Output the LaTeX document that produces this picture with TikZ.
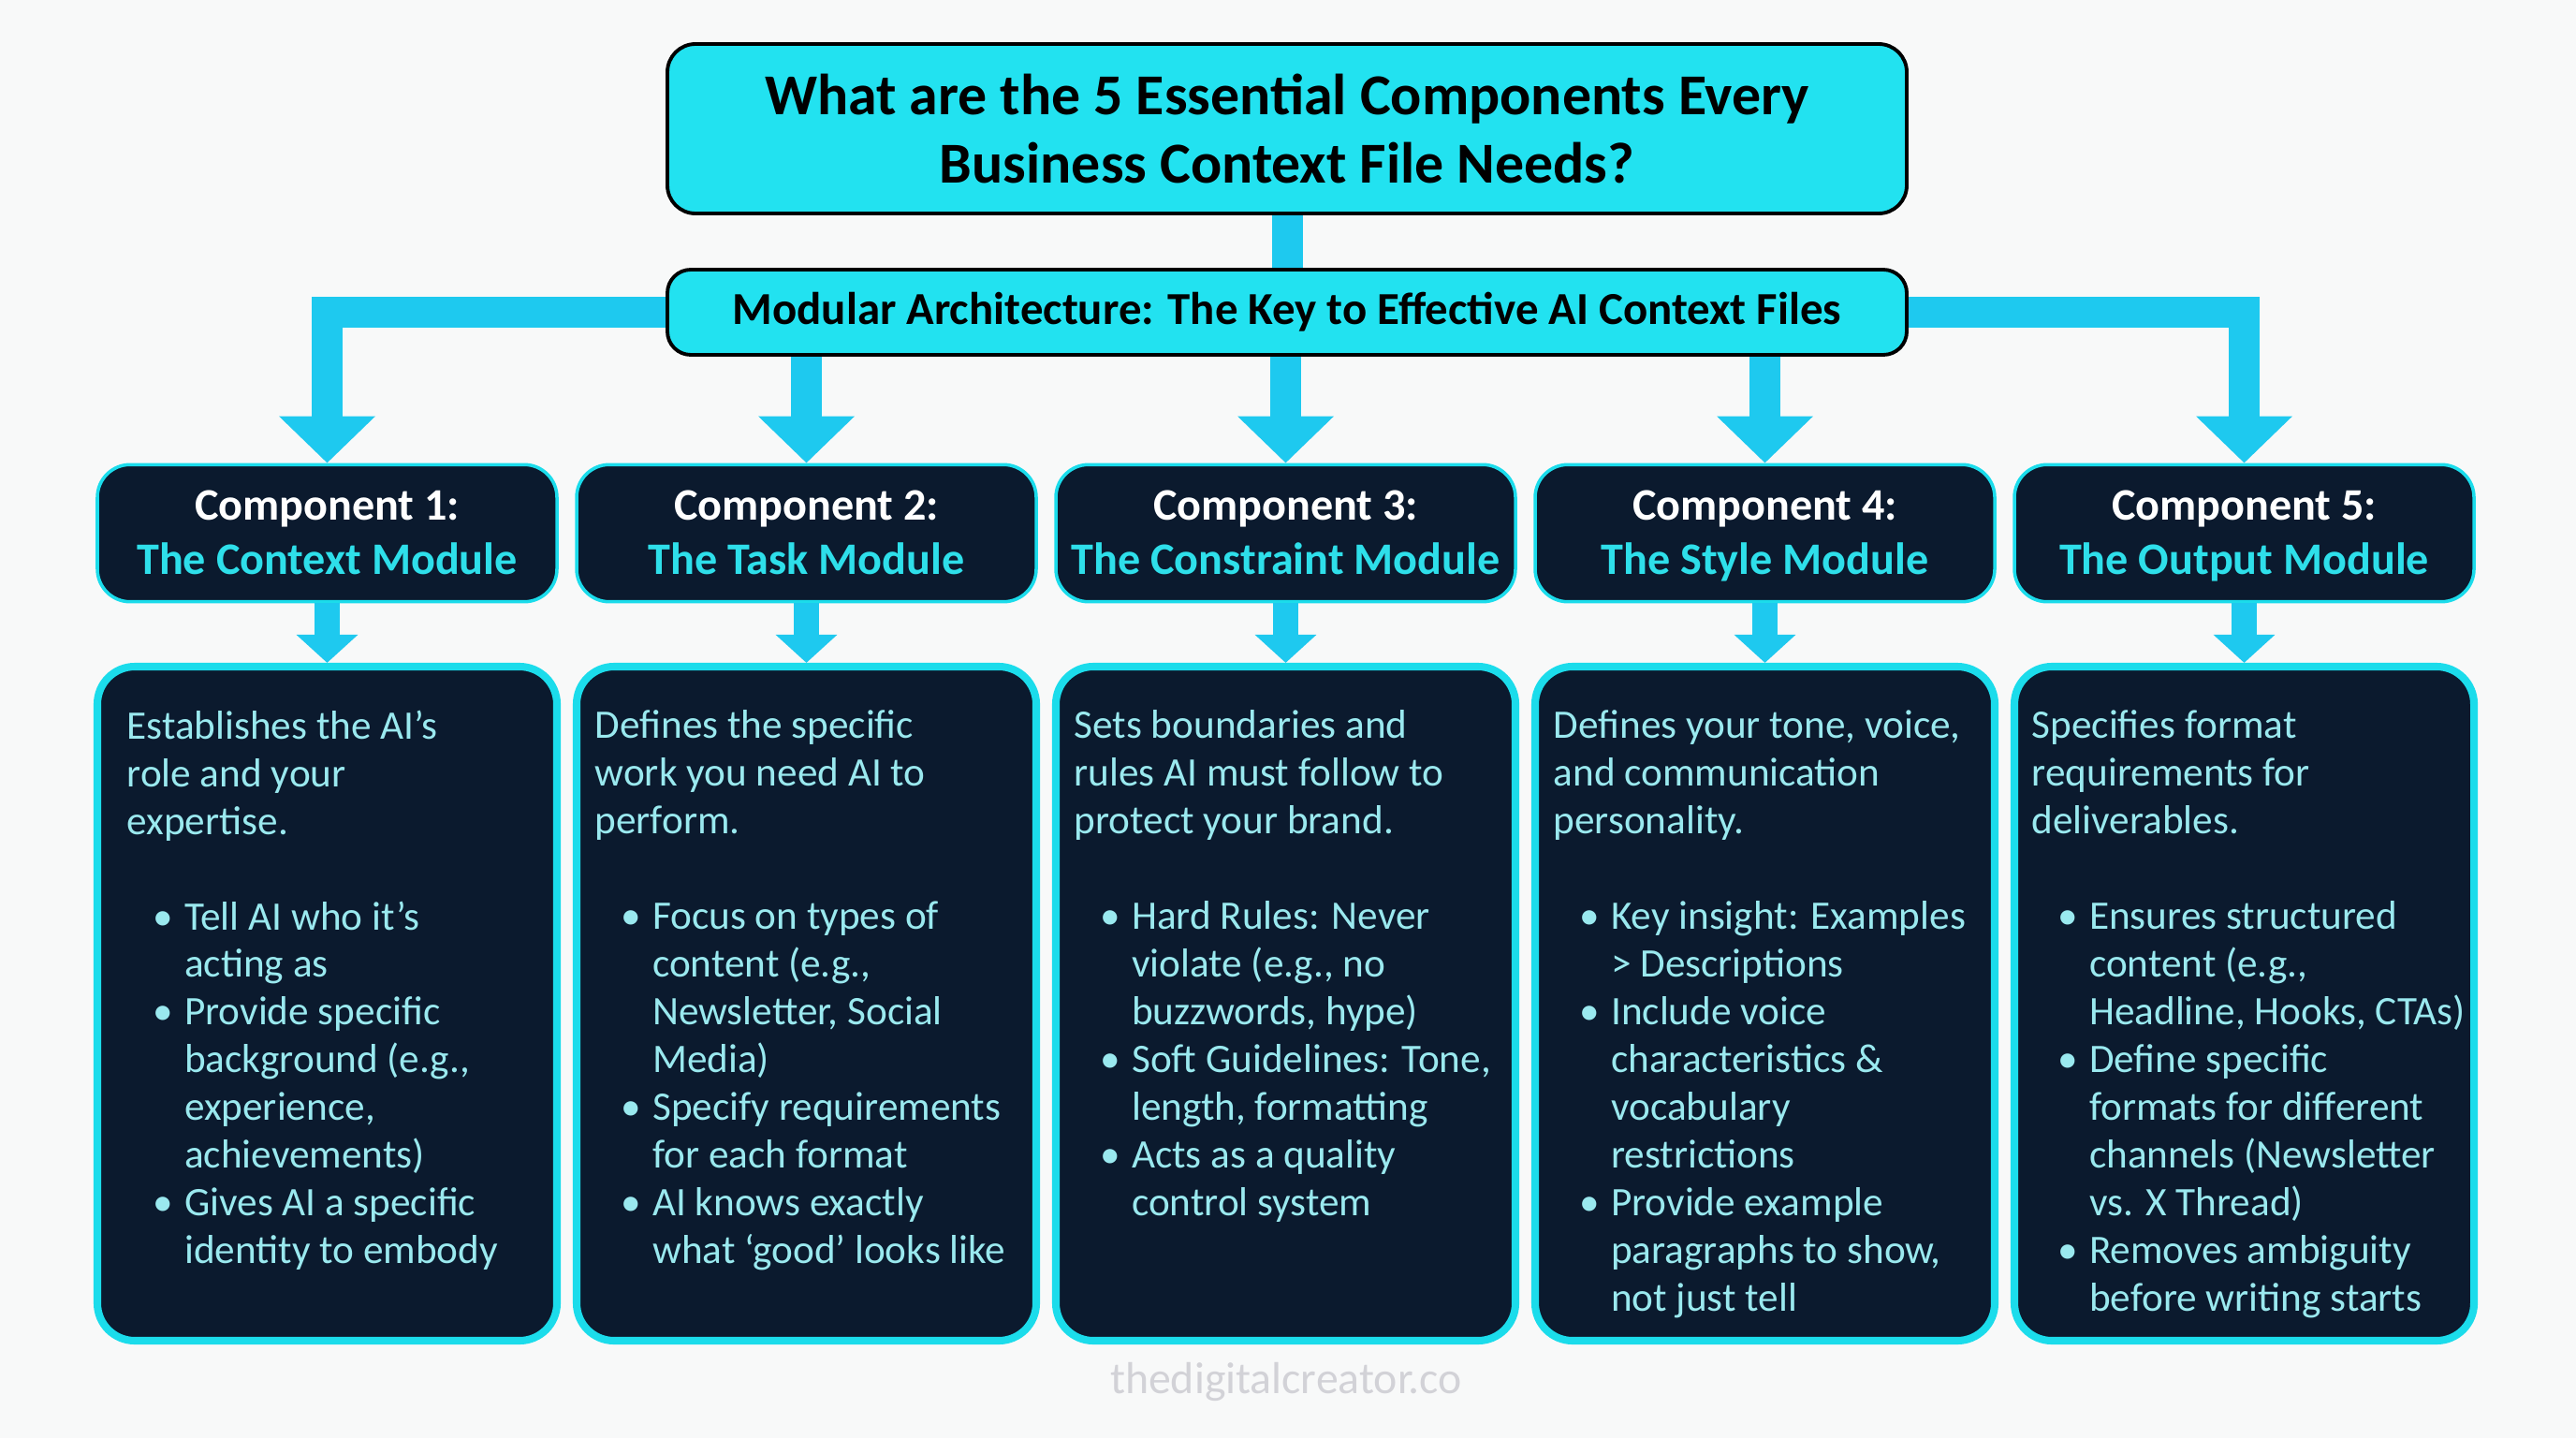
\documentclass[tikz,border=0pt]{standalone}
\usepackage{fontspec}
\setmainfont{Carlito}
\usetikzlibrary{arrows.meta, positioning}
\definecolor{ciano}{HTML}{22E2F0}
\definecolor{freccia}{HTML}{1EC9EF}
\definecolor{notte}{HTML}{0B1A2E}
\definecolor{bordo}{HTML}{1BDCEB}
\definecolor{testociano}{HTML}{9AE9EF}
\definecolor{modulo}{HTML}{2EDFEA}
\definecolor{sfondo}{HTML}{F8F9F9}
\definecolor{firma}{HTML}{D2D2D7}

\newcommand{\punto}[1]{\hspace*{8pt}\makebox[9.5pt][l]{\textbullet}#1}
\newcommand{\segue}[1]{\hspace*{17.5pt}#1}
\newcommand{\testa}[2]{\rule{0pt}{\dimexpr\ht\strutbox+2pt}Component #1:\\ \color{modulo}#2\strut}

\begin{document}
\begin{tikzpicture}[
  titolo/.style={draw=black, fill=ciano, line width=1.1pt, rounded corners=0.3cm, align=center,
                 minimum width=13.24cm, minimum height=1.81cm, font=\fontsize{17.6}{21}\selectfont\bfseries},
  barra/.style={draw=black, fill=ciano, line width=1.1pt, rounded corners=0.25cm, align=center,
                minimum width=13.24cm, minimum height=0.91cm, font=\fontsize{13.9}{15}\selectfont\bfseries},
  testata/.style={draw=bordo, fill=notte, line width=1pt, rounded corners=0.35cm, align=center, text=white,
                  minimum width=4.91cm, minimum height=1.45cm, font=\fontsize{13.7}{16.5}\selectfont\bfseries},
  corpo/.style={draw=bordo, fill=notte, line width=2.3pt, rounded corners=0.4cm,
                minimum width=4.91cm, minimum height=7.2cm},
  testo/.style={anchor=north west, align=left, inner sep=0pt, text=testociano,
                font=\fontsize{12.3}{14.5}\selectfont},
  collegamento/.style={draw=freccia, line width=0.33cm},
  rametto/.style={draw=freccia, line width=0.27cm},
  punta/.style={-{Triangle[length=0.5cm,width=1cm]}},
  puntina/.style={-{Triangle[length=0.3cm,width=0.64cm]}}
]

% sfondo
\fill[sfondo] (0,0) rectangle (27.52,-15.36);
\useasboundingbox (0,0) rectangle (27.52,-15.36);

\node[titolo] (T) at (13.75,-1.375) {What are the 5 Essential Components Every\\ Business Context File Needs?};
\node[barra] (M) at (13.75,-3.335) {Modular Architecture: The Key to Effective AI Context Files};

\node[testata] (H1) at (3.495,-5.695)  {\testa{1}{The Context Module}};
\node[testata] (H2) at (8.615,-5.695)  {\testa{2}{The Task Module}};
\node[testata] (H3) at (13.735,-5.695) {\testa{3}{The Constraint Module}};
\node[testata] (H4) at (18.855,-5.695) {\testa{4}{The Style Module}};
\node[testata] (H5) at (23.975,-5.695) {\testa{5}{The Output Module}};

\node[corpo] (B1) at (3.495,-10.72)  {};
\node[corpo] (B2) at (8.615,-10.72)  {};
\node[corpo] (B3) at (13.735,-10.72) {};
\node[corpo] (B4) at (18.855,-10.72) {};
\node[corpo] (B5) at (23.975,-10.72) {};

% collegamenti
\draw[collegamento] (T.south) -- (M.north);
\draw[collegamento, punta] (M.west) -| (H1.north);
\draw[collegamento, punta] (M.east) -| (H5.north);
\draw[collegamento, punta] (M.south -| H2.north) -- (H2.north);
\draw[collegamento, punta] (M.south -| H3.north) -- (H3.north);
\draw[collegamento, punta] (M.south -| H4.north) -- (H4.north);

\draw[rametto, puntina] (H1.south) -- (B1.north);
\draw[rametto, puntina] (H2.south) -- (B2.north);
\draw[rametto, puntina] (H3.south) -- (B3.north);
\draw[rametto, puntina] (H4.south) -- (B4.north);
\draw[rametto, puntina] (H5.south) -- (B5.north);

% testi dei moduli
\node[testo] (t1) at ([shift={(0.35,-0.5)}]B1.north west) {Establishes the AI’s\\ role and your\\ expertise.\\[14.5pt]
  \punto{Tell AI who it’s}\\ \segue{acting as}\\
  \punto{Provide specific}\\ \segue{background (e.g.,}\\ \segue{experience,}\\ \segue{achievements)}\\
  \punto{Gives AI a specific}\\ \segue{identity to embody}};
\node[testo] (t2) at ([shift={(0.23,-0.5)}]B2.north west) {Defines the specific\\ work you need AI to\\ perform.\\[14.5pt]
  \punto{Focus on types of}\\ \segue{content (e.g.,}\\ \segue{Newsletter, Social}\\ \segue{Media)}\\
  \punto{Specify requirements}\\ \segue{for each format}\\
  \punto{AI knows exactly}\\ \segue{what ‘good’ looks like}};
\node[testo] (t3) at ([shift={(0.23,-0.5)}]B3.north west) {Sets boundaries and\\ rules AI must follow to\\ protect your brand.\\[14.5pt]
  \punto{Hard Rules: Never}\\ \segue{violate (e.g., no}\\ \segue{buzzwords, hype)}\\
  \punto{Soft Guidelines: Tone,}\\ \segue{length, formatting}\\
  \punto{Acts as a quality}\\ \segue{control system}};
\node[testo] (t4) at ([shift={(0.23,-0.5)}]B4.north west) {Defines your tone, voice,\\ and communication\\ personality.\\[14.5pt]
  \punto{Key insight: Examples}\\ \segue{> Descriptions}\\
  \punto{Include voice}\\ \segue{characteristics \&}\\ \segue{vocabulary}\\ \segue{restrictions}\\
  \punto{Provide example}\\ \segue{paragraphs to show,}\\ \segue{not just tell}};
\node[testo] (t5) at ([shift={(0.22,-0.5)}]B5.north west) {Specifies format\\ requirements for\\ deliverables.\\[14.5pt]
  \punto{Ensures structured}\\ \segue{content (e.g.,}\\ \segue{Headline, Hooks, CTAs)}\\
  \punto{Define specific}\\ \segue{formats for different}\\ \segue{channels (Newsletter}\\ \segue{vs. X Thread)}\\
  \punto{Removes ambiguity}\\ \segue{before writing starts}};

% firma
\node[text=firma, font=\fontsize{13.6}{15}\selectfont] (W) at (13.74,-14.76) {thedigitalcreator.co};

\end{tikzpicture}
\end{document}
